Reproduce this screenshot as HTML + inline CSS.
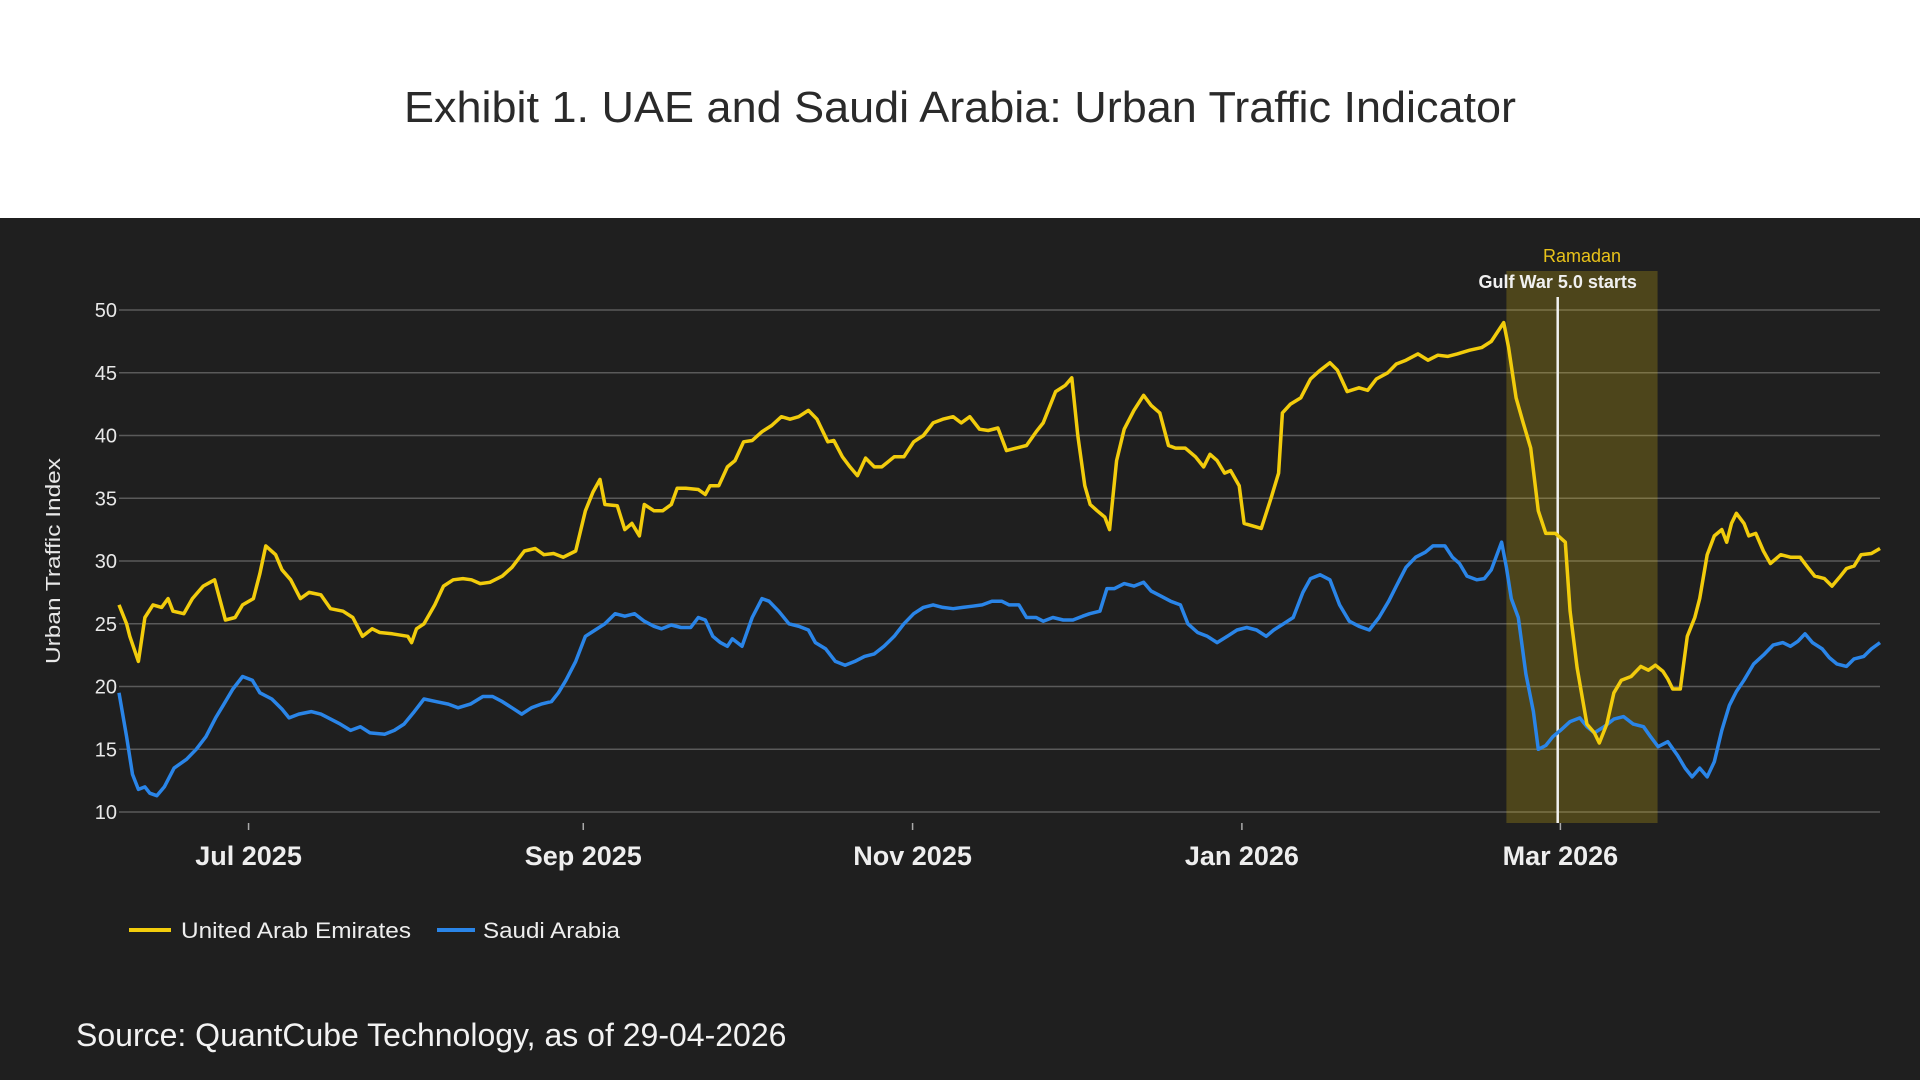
<!DOCTYPE html>
<html><head><meta charset="utf-8"><style>
html,body{margin:0;padding:0;background:#fff;}
svg{display:block;font-family:"Liberation Sans",sans-serif;}
</style></head><body>
<svg id="chart" width="1920" height="1080" viewBox="0 0 1920 1080">
<rect x="0" y="0" width="1920" height="218" fill="#ffffff"/>
<text x="960" y="122" text-anchor="middle" font-size="44" font-weight="300" fill="#2a2a2a" textLength="1112" lengthAdjust="spacingAndGlyphs">Exhibit 1. UAE and Saudi Arabia: Urban Traffic Indicator</text>
<rect x="0" y="218" width="1920" height="862" fill="#1f1f1f"/>
<g id="grid"></g>
<g id="band"></g>
<g id="series"></g>
<g id="axes"></g>
<text transform="translate(60,561) rotate(-90)" text-anchor="middle" font-size="20" fill="#e8e8e8" textLength="206" lengthAdjust="spacingAndGlyphs">Urban Traffic Index</text>
<g>
<line x1="129" y1="930" x2="171" y2="930" stroke="#f2cc0c" stroke-width="4"/>
<text x="181" y="938" font-size="22" fill="#eee" textLength="230" lengthAdjust="spacingAndGlyphs">United Arab Emirates</text>
<line x1="437" y1="930" x2="475" y2="930" stroke="#2a85e8" stroke-width="4"/>
<text x="483" y="938" font-size="22" fill="#eee" textLength="137" lengthAdjust="spacingAndGlyphs">Saudi Arabia</text>
</g>
<text x="76" y="1046" font-size="32" font-weight="300" fill="#f2f2f2">Source: QuantCube Technology, as of 29-04-2026</text>
</svg>
<script>
const yTicks=[10,15,20,25,30,35,40,45,50];
const xTickDays=[24,86,147,208,267];
const xTickLabels=["Jul 2025","Sep 2025","Nov 2025","Jan 2026","Mar 2026"];
const ramadanDays=[257,285];
const warDay=266.5;
const uaeDays=[0,1.4,2,3.6,4.8,6.3,7.9,9.1,10,12,13.6,15.6,17.7,19.7,21.5,22.9,24.9,26.1,27.2,29,30.2,31.8,33.6,35.2,37.4,39.2,41.5,43.3,45.1,46.9,48.3,50.6,53.5,54.2,55.1,56.5,58.5,60.1,61.9,63.7,65.3,66.9,68.7,71,72.8,75.1,77.1,78.7,80.5,82.3,84.6,86.4,87.8,89.1,90,92.3,93.7,95,96.4,97.3,99.1,100.7,102.3,103.4,105,107.3,108.6,109.5,111.1,112.7,114.1,115.7,117.3,119.1,120.9,122.7,124.3,125.9,127.7,129.3,131.3,132.4,134,135.4,136.8,138.3,139.9,141.3,143.6,145.4,147.2,149,150.8,152.6,154.5,156,157.6,159.4,161,162.8,164.4,166.2,168.1,169.9,171.2,173.5,175.3,176.5,177.6,178.9,179.9,181.2,182.6,183.5,184.8,186.2,188,189.8,191.2,192.8,194.4,195.7,197.5,199.4,200.9,202.1,203.4,204.8,205.9,207.5,208.4,210,211.6,213.4,214.8,215.5,217,218.9,220.7,222.5,224.3,225.7,227.5,229.7,231.3,232.9,235,236.6,238.4,240.6,242.5,244.3,246.1,247.9,250.2,252.4,254.2,256.5,257.4,258.8,260.1,261.5,262.9,264.3,266.1,267.9,268.8,270.1,271.9,273.3,274.2,275.6,276.9,278.3,280.1,281.9,283.3,284.6,286,286.9,287.8,289.2,290.5,291.9,292.8,294.2,295.5,296.9,297.8,298.7,299.6,301,301.9,303.2,304.6,305.9,307.8,309.6,311.4,312.8,314.1,315.9,317.3,318.7,320,321.4,322.7,324.6,326.2];
const uaeValues=[26.5,25,24,22,25.5,26.5,26.3,27,26,25.8,27,28,28.5,25.3,25.5,26.5,27,29,31.2,30.5,29.3,28.5,27,27.5,27.3,26.2,26,25.5,24,24.6,24.3,24.2,24,23.5,24.6,25,26.5,28,28.5,28.6,28.5,28.2,28.3,28.8,29.5,30.8,31,30.5,30.6,30.3,30.8,34,35.5,36.5,34.5,34.4,32.5,33,32,34.5,34,34,34.5,35.8,35.8,35.7,35.3,36,36,37.5,38,39.5,39.6,40.3,40.8,41.5,41.3,41.5,42,41.3,39.5,39.6,38.3,37.5,36.8,38.2,37.5,37.5,38.3,38.3,39.5,40,41,41.3,41.5,41,41.5,40.5,40.4,40.6,38.8,39,39.2,40.3,41,43.5,44,44.6,40,36,34.5,34,33.5,32.5,38,40.5,42,43.2,42.4,41.8,39.2,39,39,38.3,37.5,38.5,38,37,37.2,36,33,32.8,32.6,35,37,41.8,42.5,43,44.5,45.2,45.8,45.2,43.5,43.8,43.6,44.5,45,45.7,46,46.5,46,46.4,46.3,46.5,46.8,47,47.5,49,47,43,41,39,34,32.2,32.2,31.5,26,21.5,17,16.3,15.5,17,19.5,20.5,20.8,21.6,21.3,21.7,21.2,20.6,19.8,19.8,24,25.5,27,30.5,32,32.5,31.5,33,33.8,33,32,32.2,30.8,29.8,30.5,30.3,30.3,29.5,28.8,28.6,28,28.7,29.4,29.6,30.5,30.6,31];
const saudiDays=[0,1.4,2.5,3.6,4.8,5.7,7,8.4,10.2,12.5,14.3,16.1,17.9,19.3,21.1,22.9,24.7,26.1,28.3,30.2,31.5,33.3,35.6,37.4,39.2,41,42.9,44.7,46.5,49.2,51,52.8,54.7,56.5,58.7,61,62.8,65.1,67.4,69.2,71,72.8,74.6,76.4,78.2,80.1,81.4,82.8,84.6,86.4,88.2,90,91.9,93.7,95.5,97.3,99.1,100.5,102.3,104.1,105.9,107.3,108.6,110,111.4,112.7,113.6,115.4,117.3,119.1,120.4,122.2,124.1,125.9,127.7,129,130.9,132.7,134.5,136.3,138.1,139.9,141.7,143.6,145.4,147.2,149,150.8,152.6,154.5,156.3,158.1,159.9,161.7,163.5,164.9,166.7,168.1,169.9,171.2,173,174.9,176.7,178.5,179.8,181.7,183,184.4,186.2,188,189.8,191.2,193,194.8,196.6,198,199.8,201.6,203.4,205.3,207.1,208.9,210.7,212.5,213.9,215.7,217.5,219.3,220.7,222.5,224.3,226.1,227.9,229.7,231.6,233.4,235.2,236.6,238.4,240.2,242,243.4,245.6,247,248.3,249.7,251.5,252.9,254.2,256.1,257,257.9,259.2,260.6,262,262.9,264.3,265.6,267,268.8,270.6,271.9,273.3,275.1,276.9,278.7,280.5,282.4,283.7,285.1,286.9,288.7,290.1,291.4,292.8,294.2,295.5,296.9,298.3,299.6,301,302.8,304.6,306.4,308.2,309.6,311,312.3,313.7,315.5,316.8,318.2,320,321.4,323.2,324.6,326.2];
const saudiValues=[19.5,16,13,11.8,12,11.5,11.3,12,13.5,14.2,15,16,17.5,18.5,19.8,20.8,20.5,19.5,19,18.2,17.5,17.8,18,17.8,17.4,17,16.5,16.8,16.3,16.2,16.5,17,18,19,18.8,18.6,18.3,18.6,19.2,19.2,18.8,18.3,17.8,18.3,18.6,18.8,19.5,20.5,22,24,24.5,25,25.8,25.6,25.8,25.2,24.8,24.6,24.9,24.7,24.7,25.5,25.3,24,23.5,23.2,23.8,23.2,25.5,27,26.8,26,25,24.8,24.5,23.5,23,22,21.7,22,22.4,22.6,23.2,24,25,25.8,26.3,26.5,26.3,26.2,26.3,26.4,26.5,26.8,26.8,26.5,26.5,25.5,25.5,25.2,25.5,25.3,25.3,25.6,25.8,26,27.8,27.8,28.2,28,28.3,27.6,27.2,26.8,26.5,25,24.3,24,23.5,24,24.5,24.7,24.5,24,24.5,25,25.5,27.5,28.6,28.9,28.5,26.5,25.2,24.8,24.5,25.5,26.8,28,29.5,30.3,30.7,31.2,31.2,30.3,29.8,28.8,28.5,28.6,29.3,31.5,29.5,27,25.5,21,18,15,15.3,16,16.5,17.2,17.5,16.8,16.3,16.8,17.4,17.6,17,16.8,16,15.2,15.6,14.5,13.5,12.8,13.5,12.8,14,16.5,18.5,19.6,20.5,21.8,22.5,23.3,23.5,23.2,23.6,24.2,23.5,23,22.3,21.8,21.6,22.2,22.4,23,23.5];

const NS="http://www.w3.org/2000/svg";
const X0=119,X1=1880,D0=0,D1=326.2,Y0=812,Y1=310,V0=10,V1=50;
function xs(d){return X0+(d-D0)/(D1-D0)*(X1-X0);}
function ys(v){return Y0+(v-V0)/(V1-V0)*(Y1-Y0);}
function mk(tag,attrs,parent){const e=document.createElementNS(NS,tag);for(const k in attrs)e.setAttribute(k,attrs[k]);parent.appendChild(e);return e;}
const grid=document.getElementById('grid'),axes=document.getElementById('axes'),band=document.getElementById('band'),series=document.getElementById('series');
yTicks.forEach(v=>{
  const l=mk('line',{x1:X0,x2:X1,y1:ys(v),y2:ys(v),stroke:'#5a5a5a','stroke-width':1.5},grid);
  
  
  const t=mk('text',{x:117,y:ys(v)+7,'text-anchor':'end','font-size':20,fill:'#e8e8e8'},axes);
  t.textContent=v;
  
  
});
xTickDays.forEach((d,i)=>{
  const l=mk('line',{x1:xs(d),x2:xs(d),y1:823,y2:830,stroke:'#aaa','stroke-width':1.5},axes);
  
  
  const t=mk('text',{x:xs(d),y:865,'text-anchor':'middle','font-size':27,'font-weight':'bold',fill:'#eee'},axes);
  t.textContent=xTickLabels[i];
  
  
});
const r=mk('rect',{x:xs(ramadanDays[0]),y:271,width:xs(ramadanDays[1])-xs(ramadanDays[0]),height:552,fill:'#f2cc0c','fill-opacity':0.22},band);


const rt=mk('text',{x:(xs(ramadanDays[0])+xs(ramadanDays[1]))/2,y:262,'text-anchor':'middle','font-size':18,fill:'#e8c21a'},band);
rt.textContent='Ramadan';


const wl=mk('line',{x1:xs(warDay),x2:xs(warDay),y1:297,y2:823,stroke:'#f0f0f0','stroke-width':2.5},band);


const wt=mk('text',{x:xs(warDay),y:288,'text-anchor':'middle','font-size':18,'font-weight':'bold',fill:'#f0f0f0'},band);
wt.textContent='Gulf War 5.0 starts';


function path(days,vals){return days.map((d,i)=>(i?'L':'M')+xs(d).toFixed(1)+','+ys(vals[i]).toFixed(1)).join(' ');}
const ps=mk('path',{d:path(saudiDays,saudiValues),fill:'none',stroke:'#2a85e8','stroke-width':3.5,'stroke-linejoin':'round'},series);


const pu=mk('path',{d:path(uaeDays,uaeValues),fill:'none',stroke:'#f2cc0c','stroke-width':3.5,'stroke-linejoin':'round'},series);


</script>
</body></html>
